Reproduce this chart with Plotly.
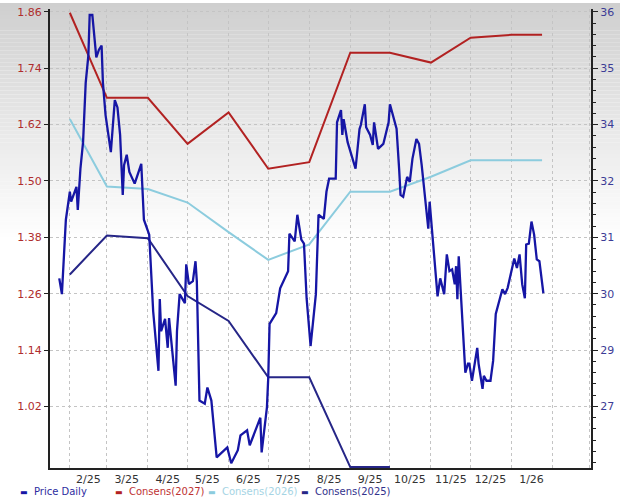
import plotly.graph_objects as go

# Price Daily (right axis, $)
price_dates = [
    "2025-01-24", "2025-01-26", "2025-01-29", "2025-02-01", "2025-02-02", "2025-02-06", "2025-02-07",
    "2025-02-09", "2025-02-11", "2025-02-13", "2025-02-15", "2025-02-16", "2025-02-18", "2025-02-20",
    "2025-02-21", "2025-02-23", "2025-02-25", "2025-02-26", "2025-02-28", "2025-03-04", "2025-03-07",
    "2025-03-09", "2025-03-11", "2025-03-13", "2025-03-14", "2025-03-16", "2025-03-18", "2025-03-22",
    "2025-03-27", "2025-03-29", "2025-04-02", "2025-04-05", "2025-04-09", "2025-04-10", "2025-04-11",
    "2025-04-14", "2025-04-16", "2025-04-17", "2025-04-22", "2025-04-23", "2025-04-25", "2025-04-29",
    "2025-04-30", "2025-05-02", "2025-05-05", "2025-05-07", "2025-05-08", "2025-05-10", "2025-05-14",
    "2025-05-16", "2025-05-19", "2025-05-23", "2025-05-31", "2025-06-03", "2025-06-08", "2025-06-10",
    "2025-06-15", "2025-06-17", "2025-06-25", "2025-06-26", "2025-06-30", "2025-07-01", "2025-07-02",
    "2025-07-07", "2025-07-10", "2025-07-16", "2025-07-17", "2025-07-21", "2025-07-23", "2025-07-26",
    "2025-07-28", "2025-07-30", "2025-08-02", "2025-08-06", "2025-08-08", "2025-08-12", "2025-08-14",
    "2025-08-16", "2025-08-21", "2025-08-22", "2025-08-25", "2025-08-26", "2025-08-27", "2025-08-30",
    "2025-09-05", "2025-09-08", "2025-09-09", "2025-09-12", "2025-09-13", "2025-09-16", "2025-09-18",
    "2025-09-19", "2025-09-22", "2025-09-26", "2025-09-30", "2025-10-01", "2025-10-04", "2025-10-06",
    "2025-10-08", "2025-10-09", "2025-10-11", "2025-10-14", "2025-10-16", "2025-10-18", "2025-10-21",
    "2025-10-23", "2025-10-25", "2025-10-30", "2025-10-31", "2025-11-06", "2025-11-08", "2025-11-11",
    "2025-11-13", "2025-11-15", "2025-11-17", "2025-11-19", "2025-11-20", "2025-11-21", "2025-11-22",
    "2025-11-26", "2025-11-27", "2025-11-29", "2025-11-30", "2025-12-02", "2025-12-06", "2025-12-07",
    "2025-12-09", "2025-12-10", "2025-12-11", "2025-12-13", "2025-12-16", "2025-12-18", "2025-12-20",
    "2025-12-22", "2025-12-25", "2025-12-27", "2025-12-29", "2025-12-31", "2026-01-03", "2026-01-05",
    "2026-01-07", "2026-01-09", "2026-01-11", "2026-01-12", "2026-01-14", "2026-01-16", "2026-01-18",
    "2026-01-20", "2026-01-22", "2026-01-25",
]
price_values = [
    30.09, 29.74, 31.39, 32.01, 31.79, 32.12, 31.61,
    32.52, 33.11, 34.43, 35.03, 35.93, 35.93, 35.32,
    34.99, 35.16, 35.25, 34.43, 33.71, 32.89, 34.04,
    33.88, 33.27, 31.94, 32.60, 32.83, 32.45, 32.19,
    32.63, 31.39, 31.06, 29.36, 28.04, 29.63, 28.92,
    29.19, 28.55, 29.21, 27.71, 28.92, 29.74, 29.54,
    30.40, 29.96, 30.03, 30.47, 30.03, 27.38, 27.31,
    27.67, 27.38, 26.12, 26.34, 25.99, 26.28, 26.61,
    26.72, 26.39, 27.00, 26.23, 27.23, 27.89, 29.08,
    29.32, 29.87, 30.25, 31.08, 30.91, 31.50, 30.95,
    30.86, 29.65, 28.59, 29.74, 31.50, 31.41, 32.01,
    32.30, 32.30, 33.55, 33.82, 33.27, 33.62, 33.11,
    32.52, 33.40, 33.49, 33.95, 33.44, 33.27, 33.05,
    33.55, 32.96, 33.07, 33.55, 33.95, 33.63, 33.41,
    32.49, 31.94, 31.90, 32.34, 32.23, 32.74, 33.18,
    33.07, 32.60, 31.19, 31.79, 29.69, 30.09, 29.74,
    30.62, 30.25, 30.29, 29.96, 30.36, 29.63, 30.58,
    28.42, 28.00, 28.20, 28.20, 27.82, 28.55, 28.20,
    27.82, 27.64, 27.93, 27.82, 27.82, 28.26, 29.30,
    29.52, 29.85, 29.74, 29.88, 30.14, 30.53, 30.32,
    30.62, 29.96, 29.65, 30.84, 30.86, 31.35, 31.06,
    30.51, 30.47, 29.76,
]

# consensus EPS estimates (left axis)
cons_dates = ["2025-02-01", "2025-03-01", "2025-04-01", "2025-05-01", "2025-06-01", "2025-07-01",
              "2025-08-01", "2025-09-01", "2025-10-01", "2025-11-01", "2025-12-01", "2026-01-01",
              "2026-01-24"]
cons_2027 = [1.858, 1.677, 1.677, 1.579, 1.646, 1.526, 1.540, 1.773, 1.773, 1.752, 1.805, 1.811, 1.811]
cons_2026 = [1.632, 1.488, 1.483, 1.454, 1.391, 1.332, 1.365, 1.477, 1.477, 1.509, 1.544, 1.544, 1.544]
cons_2025 = [1.301, 1.384, 1.378, 1.255, 1.202, 1.082, 1.082, 0.891, 0.891]

eps_ticks = [1.86, 1.74, 1.62, 1.50, 1.38, 1.26, 1.14, 1.02]
price_ticks = [36, 34.75, 33.5, 32.25, 31, 29.75, 28.5, 27.25]
price_labels = ["36", "35", "34", "32", "31", "30", "29", "27"]
month_ticks = ["2025-02-15", "2025-03-16", "2025-04-16", "2025-05-16", "2025-06-16", "2025-07-16",
               "2025-08-16", "2025-09-16", "2025-10-16", "2025-11-16", "2025-12-16", "2026-01-16"]
month_labels = ["2/25", "3/25", "4/25", "5/25", "6/25", "7/25", "8/25", "9/25", "10/25", "11/25",
                "12/25", "1/26"]
legend_names = ["Price Daily", "Consens(2027)", "Consens(2026)", "Consens(2025)"]

FONT = "DejaVu Sans"
RED = "rgb(178,34,34)"
LIGHT = "rgb(140,204,222)"
NAVY = "rgb(38,38,135)"
BLUE = "rgb(22,22,165)"

fig = go.Figure()

fig.add_trace(go.Scatter(x=cons_dates, y=cons_2027, mode="lines", line=dict(color=RED, width=2),
                         name=legend_names[1]))
fig.add_trace(go.Scatter(x=cons_dates, y=cons_2026, mode="lines", line=dict(color=LIGHT, width=2),
                         name=legend_names[2]))
fig.add_trace(go.Scatter(x=cons_dates[:len(cons_2025)], y=cons_2025, mode="lines",
                         line=dict(color=NAVY, width=2), name=legend_names[3]))
fig.add_trace(go.Scatter(x=price_dates, y=price_values, mode="lines", yaxis="y2",
                         line=dict(color=BLUE, width=2.3), name=legend_names[0]))

# grey-to-white background gradient at the top of the picture
n_bands = 60
for i in range(n_bands):
    c = int(round(207 + (i + 0.5) * 48 / n_bands))
    y_top = (468 - i * 4) / 462
    y_bot = (468 - (i + 1) * 4) / 462
    fig.add_shape(type="rect", xref="paper", yref="paper", x0=-0.1, x1=1.06, y0=y_bot, y1=y_top,
                  fillcolor=f"rgb({c},{c},{c})", line_width=0, layer="below")

# legend drawn below the plot: short coloured dash + coloured label
legend_x = [18, 113, 206, 299]
legend_dash = [BLUE, RED, LIGHT, NAVY]
legend_text = ["rgb(45,45,160)", "rgb(190,50,50)", "rgb(165,212,228)", "rgb(50,50,140)"]
for name, px, dc, tc in zip(legend_names, legend_x, legend_dash, legend_text):
    fig.add_annotation(xref="paper", yref="paper", x=(px - 50) / 541, y=(468 - 492) / 462,
                       xanchor="left", yanchor="middle", showarrow=False,
                       text=f"<span style='color:{dc};font-size:8px'>▬</span>  "
                            f"<span style='color:{tc}'>{name}</span>",
                       font=dict(family=FONT, size=10))

fig.update_layout(
    width=620, height=499,
    margin=dict(l=50, r=29, t=6, b=31),
    paper_bgcolor="white", plot_bgcolor="rgba(0,0,0,0)",
    font=dict(family=FONT, size=10),
    showlegend=False,
    xaxis=dict(type="date", range=["2025-01-17", "2026-03-02"],
               tickmode="array", tickvals=month_ticks, ticktext=month_labels, ticks="",
               showgrid=False, showline=True, linecolor="#222222", linewidth=2,
               tickfont=dict(color="#333333", size=11),
               minor=dict(dtick="M1", tick0="2025-01-01", showgrid=True, gridcolor="#c4c4c4",
                          griddash="dot", gridwidth=1, ticks="")),
    yaxis=dict(range=[0.889, 1.866], tickmode="array", tickvals=eps_ticks,
               ticktext=[f"{v:.2f}" for v in eps_ticks],
               showgrid=True, gridcolor="#c4c4c4", griddash="dot", gridwidth=1,
               showline=True, linecolor="#222222", linewidth=2, ticks="outside", ticklen=4,
               tickcolor="#222222", tickfont=dict(color="rgb(175,45,45)", size=11), zeroline=False),
    yaxis2=dict(range=[25.885, 36.0625], overlaying="y", side="right", tickmode="array",
                tickvals=price_ticks, ticktext=price_labels, showgrid=False,
                showline=True, linecolor="#222222", linewidth=2, ticks="outside", ticklen=5,
                tickcolor="#222222", tickfont=dict(color="rgb(60,60,150)", size=11), zeroline=False,
                minor=dict(tickmode="linear", tick0=27.25, dtick=0.25, ticks="outside", ticklen=3,
                           tickcolor="#222222", showgrid=False)),
)

fig.write_html("out.html", config={"displayModeBar": False},
               post_script="document.body.style.margin='0px';document.body.style.overflow='hidden';")
